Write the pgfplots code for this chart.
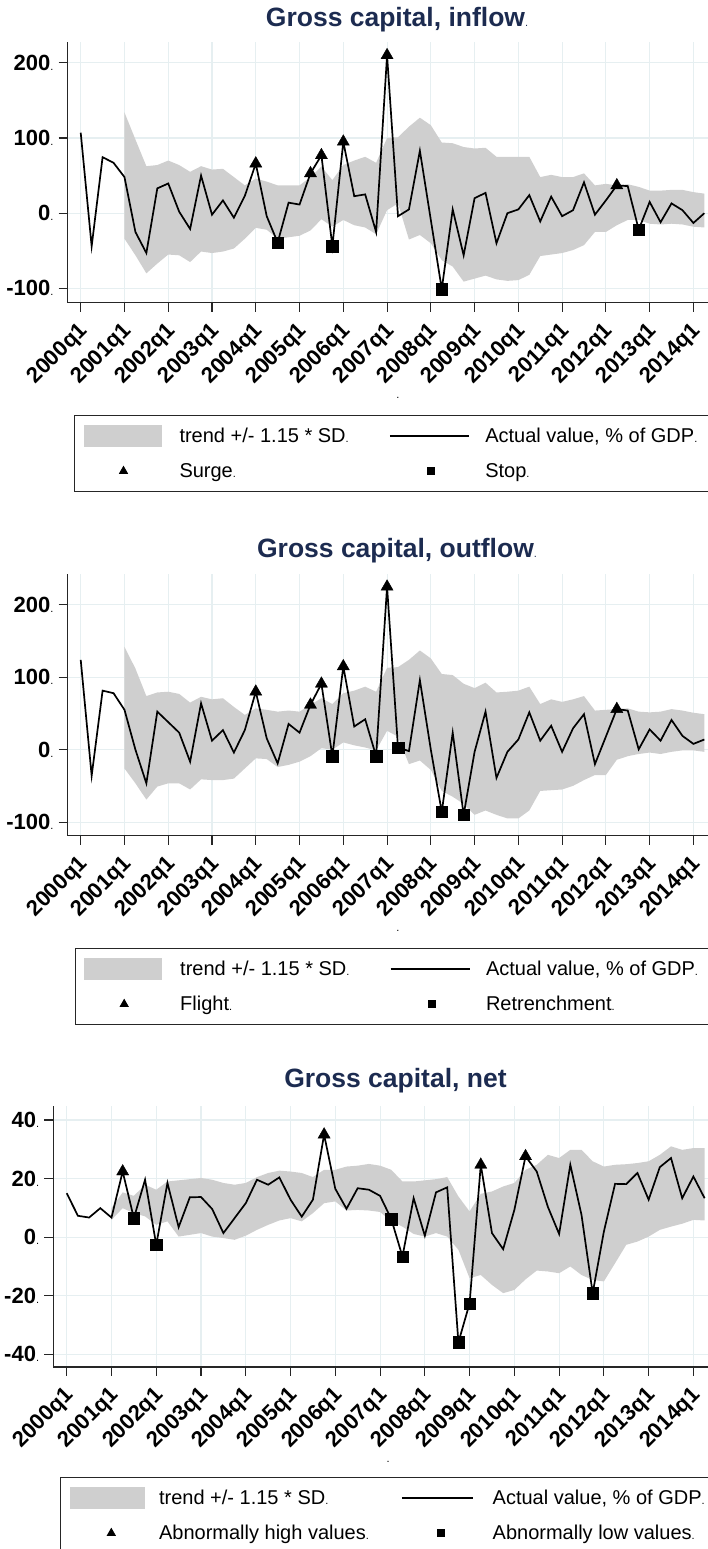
\documentclass[border=0pt]{standalone}
\usepackage{fontspec}
\setmainfont{Liberation Sans}
\usepackage{pgfplots}
\usepackage{pgfplotstable}
\pgfplotsset{compat=1.18}

\definecolor{navy}{HTML}{1C2B50}
\definecolor{bandgrey}{HTML}{CFCFCF}
\definecolor{gridc}{HTML}{E6EFF1}
\definecolor{axisc}{HTML}{262626}

\newcommand\dt{{\fontsize{11}{11}\selectfont\mdseries .}}
\newcommand\ticklab{\fontsize{22}{24}\selectfont\bfseries}
\newcommand\legfont{\fontsize{20}{22}\selectfont}
\newcommand\titlefont{\fontsize{26.5}{30}\selectfont\bfseries}

% quarter index i (0 = 2000q1), actual value v
\pgfplotstableread{
i v
0 107
1 -44
2 74.5
3 67
4 48
5 -25
6 -53
7 33
8 39.5
9 2
10 -21
11 50
12 -2
13 17
14 -6
15 23
16 66
17 -4
18 -39
19 14
20 11.5
21 53
22 77
23 -44
24 95
25 22.6
26 25
27 -25
28 210
29 -4
30 5
31 83
32 -9
33 -101
34 5
35 -56
36 20
37 27
38 -40
39 0
40 5
41 24
42 -11
43 22
44 -4
45 4
46 41
47 -2
48 17
49 37
50 36
51 -22
52 15
53 -12
54 13
55 4
56 -13
57 0
}\inflow

\pgfplotstableread{
i v
0 124
1 -36
2 81.5
3 78
4 55
5 0
6 -46.5
7 52.5
8 38
9 23.5
10 -16.6
11 64
12 12.4
13 27
14 -4
15 27
16 80
17 15.6
18 -19
19 35.5
20 23.5
21 62
22 91
23 -9
24 115
25 32
26 42
27 -9
28 225
29 3
30 -2
31 96
32 0
33 -86
34 23.5
35 -90
36 -3
37 52.5
38 -39
39 -3
40 14
41 51.5
42 12.4
43 33
44 -3
45 29.5
46 49
47 -20
48 18
49 56
50 54
51 0.5
52 28
53 12.4
54 41
55 19
56 8
57 14
}\outflow

\pgfplotstableread{
i v
0 15
1 7.3
2 6.7
3 9.9
4 6.7
5 22.4
6 6.5
7 19.6
8 -2.6
9 18.5
10 3.4
11 13.6
12 13.7
13 9.6
14 1.4
15 6.5
16 11.6
17 19.6
18 17.9
19 20.4
20 12.8
21 7
22 12.8
23 35
24 16.5
25 9.7
26 16.7
27 16.2
28 14.1
29 6.2
30 -6.6
31 13.3
32 0.5
33 15.3
34 17
35 -35.9
36 -22.6
37 24.7
38 1.4
39 -4.1
40 9.3
41 27.6
42 22.4
43 10.3
44 1.1
45 24.7
46 7.6
47 -19.1
48 1.9
49 18.2
50 18.1
51 21.9
52 12.8
53 23.9
54 27
55 13.3
56 20.7
57 13.3
}\netflow

\pgfplotsset{
  panel/.style={
    scale only axis, anchor=south west,
    axis x line*=bottom, axis y line*=left,
    axis line style={axisc, line width=1.2pt, -},
    tick align=outside, major tick length=9pt,
    every tick/.style={axisc, line width=1.1pt},
    xtick={0,4,...,56},
    xticklabels={2000q1,2001q1,2002q1,2003q1,2004q1,2005q1,2006q1,2007q1,
      2008q1,2009q1,2010q1,2011q1,2012q1,2013q1,2014q1},
    xmin=-1.19, xmax=57.6,
    xmajorgrids, ymajorgrids, grid style={gridc, line width=1.1pt},
    xticklabel style={font=\ticklab, xshift=4pt, yshift=-16pt, rotate=45, anchor=east, inner sep=0pt},
    yticklabel style={font=\ticklab, xshift=-5pt, anchor=east, inner sep=0pt},
    xlabel={.}, xlabel style={font=\fontsize{11}{11}\selectfont, anchor=center, yshift=-95pt},
    title style={font=\titlefont, text=navy, anchor=center},
    legend columns=2, legend cell align=left,
    legend style={draw=axisc, line width=0.8pt, fill=white, at={(0,0)}, anchor=north west,
      inner ysep=3pt, column sep=0pt, row sep=0pt,
      nodes={inner sep=0pt, font=\legfont, minimum height=35pt}},
  },
  bandkey/.style 2 args={legend image code/.code={
      \fill[bandgrey] (0pt,-11pt) rectangle (#1,11pt); \path (0pt,0pt) (#2,0pt);}},
  linekey/.style 2 args={legend image code/.code={
      \draw[black, line width=1.5pt] (0pt,0pt) -- (#1,0pt); \path (#2,0pt);}},
  trikey/.style 2 args={legend image code/.code={
      \fill[black] (#1-4pt,-2.6pt) -- (#1+4pt,-2.6pt) -- (#1,4.4pt) -- cycle; \path (0pt,0pt) (#2,0pt);}},
  sqkey/.style 2 args={legend image code/.code={
      \fill[black] (#1-3.6pt,-3.6pt) rectangle (#1+3.6pt,3.6pt); \path (0pt,0pt) (#2,0pt);}},
  band/.style={fill=bandgrey, draw=none, mark=none},
  tri/.style={only marks, mark=triangle*, mark size=7pt, mark options={fill=black, draw=black}},
  sq/.style={only marks, mark=square*, mark size=5.7pt, mark options={fill=black, draw=black}},
  actual/.style={black, line width=1.7pt, mark=none},
}

\begin{document}
\begin{tikzpicture}

% ---------- inflow ----------
\begin{axis}[panel,
  at={(67.7pt,1246.3pt)}, width=643.2pt, height=260.5pt,
  ymin=-119, ymax=227.4,
  ytick={-100,0,100,200}, yticklabels={-100\dt,0\dt,100\dt,200\dt},
  title={Gross capital, inflow\dt}, title style={at={(0.512,1)}, yshift=17pt},
  xlabel style={at={(axis description cs:0.5135,0)}},
  legend style={xshift=6.6pt, yshift=-112.3pt, inner xsep=8.4pt},
]
% band: trend +/- 1.15 SD, upper edge left to right then lower edge right to left
\addplot[band, bandkey={78pt}{95.6pt}] coordinates {
  (4,134) (5,98) (6,62.5) (7,64) (8,70) (9,64) (10,55) (11,62.5) (12,58) (13,59)
  (14,48) (15,37) (16,46) (17,42) (18,37) (19,37) (20,37) (21,48) (22,62) (23,44)
  (24,64) (25,70) (26,75) (27,67) (28,100) (29,101) (30,115) (31,127) (32,117) (33,94)
  (34,93) (35,88) (36,86) (37,87) (38,75) (39,75) (40,75) (41,75) (42,48) (43,51)
  (44,48) (45,48) (46,53) (47,37) (48,39) (49,37) (50,38.5) (51,35) (52,30) (53,30)
  (54,31) (55,31) (56,28) (57,26)
  (57,-19) (56,-18) (55,-15) (54,-14) (53,-15) (52,-14) (51,-9) (50,-9) (49,-16) (48,-25)
  (47,-25) (46,-42.5) (45,-49) (44,-53) (43,-55) (42,-57) (41,-82) (40,-89) (39,-90) (38,-88)
  (37,-83) (36,-87) (35,-91) (34,-71) (33,-62.5) (32,-40) (31,-29) (30,-35) (29,13) (28,4)
  (27,-28) (26,-19) (25,-16) (24,-9) (23,-18) (22,-8) (21,-23) (20,-30) (19,-32) (18,-34)
  (17,-22) (16,-19.5) (15,-34) (14,-47) (13,-51) (12,-53) (11,-51) (10,-65) (9,-56) (8,-55)
  (7,-67) (6,-80) (5,-56) (4,-34)};
\addplot[actual, linekey={79pt}{94.5pt}] table[x=i, y=v] {\inflow};
\addplot[tri, trikey={40pt}{95.6pt}] coordinates {(16,66) (21,53) (22,77) (24,95) (28,210) (49,37)};
\addplot[sq, sqkey={41pt}{94.5pt}] coordinates {(18,-39) (23,-44) (33,-101) (51,-22)};
\legend{\makebox[209.7pt][l]{trend +/- 1.15 * SD\dt}, \makebox[215pt][l]{Actual value, \% of GDP\dt},
  Surge\dt, Stop\dt}
\end{axis}

% ---------- outflow ----------
\begin{axis}[panel,
  at={(67.7pt,713.3pt)}, width=643.2pt, height=261.7pt,
  ymin=-118.8, ymax=242.6,
  ytick={-100,0,100,200}, yticklabels={-100\dt,0\dt,100\dt,200\dt},
  title={Gross capital, outflow\dt}, title style={at={(0.512,1)}, yshift=17pt},
  xlabel style={at={(axis description cs:0.5135,0)}},
  legend style={xshift=7.3pt, yshift=-112.3pt, inner xsep=8.4pt},
]
\addplot[band, bandkey={78pt}{95.6pt}] coordinates {
  (4,142) (5,112) (6,74) (7,79) (8,80) (9,77) (10,65) (11,73) (12,69.5) (13,71)
  (14,59) (15,48) (16,57) (17,55) (18,52.5) (19,54) (20,52.5) (21,62) (22,71) (23,63)
  (24,78) (25,81.5) (26,87) (27,80) (28,113) (29,114) (30,124) (31,137) (32,126) (33,104.5)
  (34,103) (35,91) (36,85) (37,92.5) (38,79) (39,80) (40,81.5) (41,87) (42,63) (43,69.5)
  (44,66) (45,69.5) (46,74) (47,54) (48,55) (49,56) (50,57) (51,52.5) (52,51.5) (53,52.5)
  (54,56) (55,54) (56,51) (57,49)
  (57,-3) (56,-1) (55,-1) (54,-3) (53,-6) (52,-4) (51,-6) (50,-9) (49,-14) (48,-35)
  (47,-35) (46,-42) (45,-50) (44,-55) (43,-56) (42,-57) (41,-84) (40,-95) (39,-95) (38,-90)
  (37,-84) (36,-90) (35,-75) (34,-65) (33,-57) (32,-28) (31,-15) (30,-20) (29,18) (28,26)
  (27,-1) (26,3) (25,6) (24,10) (23,0) (22,2) (21,-9) (20,-16.6) (19,-21) (18,-24)
  (17,-13) (16,-12) (15,-26) (14,-40) (13,-42) (12,-42) (11,-41) (10,-55) (9,-46.5) (8,-46.5)
  (7,-51) (6,-69) (5,-46.5) (4,-26)};
\addplot[actual, linekey={79pt}{94.5pt}] table[x=i, y=v] {\outflow};
\addplot[tri, trikey={40pt}{95.6pt}] coordinates {(16,80) (21,62) (22,91) (24,115) (28,225) (49,56)};
\addplot[sq, sqkey={41pt}{94.5pt}] coordinates {(23,-9) (27,-9) (29,3) (33,-86) (35,-90)};
\legend{\makebox[209.7pt][l]{trend +/- 1.15 * SD\dt}, \makebox[215pt][l]{Actual value, \% of GDP\dt},
  Flight\dt, Retrenchment\dt}
\end{axis}

% ---------- net ----------
\begin{axis}[panel,
  at={(53.3pt,182pt)}, width=658pt, height=261.1pt,
  xmin=-1.2, ymin=-44.3, ymax=44.8,
  ytick={-40,-20,0,20,40}, yticklabels={-40\dt,-20\dt,0\dt,20\dt,40\dt},
  title={Gross capital, net}, title style={at={(0.52,1)}, yshift=19pt},
  xlabel style={at={(axis description cs:0.509,0)}},
  legend style={xshift=6.6pt, yshift=-110pt, inner xsep=9pt},
]
\addplot[band, bandkey={75pt}{89pt}] coordinates {
  (4,9.9) (5,15.3) (6,14.1) (7,17.9) (8,16.2) (9,19) (10,19.4) (11,19.8) (12,20.2) (13,19.6)
  (14,18.5) (15,17.9) (16,18.5) (17,20.5) (18,21.9) (19,22.7) (20,22.4) (21,21.9) (22,20.5) (23,23)
  (24,23) (25,24.1) (26,24.4) (27,25) (28,24.4) (29,23) (30,19) (31,19) (32,19.4) (33,19.8)
  (34,20.5) (35,13.9) (36,8.8) (37,14.8) (38,15.6) (39,17.3) (40,18.5) (41,23) (42,24.7) (43,28.1)
  (44,27) (45,29.8) (46,29.8) (47,25.9) (48,24.1) (49,24.7) (50,24.9) (51,25.3) (52,25.9) (53,28.1)
  (54,31) (55,29.8) (56,30.4) (57,30.4)
  (57,5.7) (56,5.9) (55,4.6) (54,3.6) (53,2.5) (52,0.2) (51,-1.5) (50,-2.6) (49,-8.9) (48,-15.1)
  (47,-14.6) (46,-12.9) (45,-10) (44,-12.3) (43,-11.7) (42,-11.4) (41,-14.4) (40,-18) (39,-19.1) (38,-16.3)
  (37,-12.9) (36,-14) (35,-4.3) (34,0.2) (33,1.4) (32,0.2) (31,1.1) (30,3.6) (29,5.4) (28,8.6)
  (27,9.1) (26,9.3) (25,9.1) (24,12.2) (23,11.6) (22,8.2) (21,5.4) (20,6.5) (19,5.7) (18,4.2)
  (17,2.5) (16,0.5) (15,-0.9) (14,-0.3) (13,0.2) (12,1.4) (11,0.8) (10,0.2) (9,5.4) (8,4.2)
  (7,7.1) (6,8.2) (5,9.9) (4,5.9)};
\addplot[actual, linekey={71pt}{90pt}] table[x=i, y=v] {\netflow};
\addplot[tri, trikey={41.6pt}{89pt}] coordinates {(5,22.4) (23,35) (37,24.7) (41,27.6)};
\addplot[sq, sqkey={39pt}{90pt}] coordinates {(6,6.5) (8,-2.6) (29,6.2) (30,-6.6) (35,-35.9) (36,-22.6) (47,-19.1)};
\legend{\makebox[242pt][l]{trend +/- 1.15 * SD\dt}, {Actual value, \% of GDP\dt},
  \makebox[242pt][l]{Abnormally high values\dt}, Abnormally low values\dt}
\end{axis}

\pgfresetboundingbox
\path[use as bounding box] (0pt,0pt) rectangle (708pt,1549pt);
\end{tikzpicture}
\end{document}
